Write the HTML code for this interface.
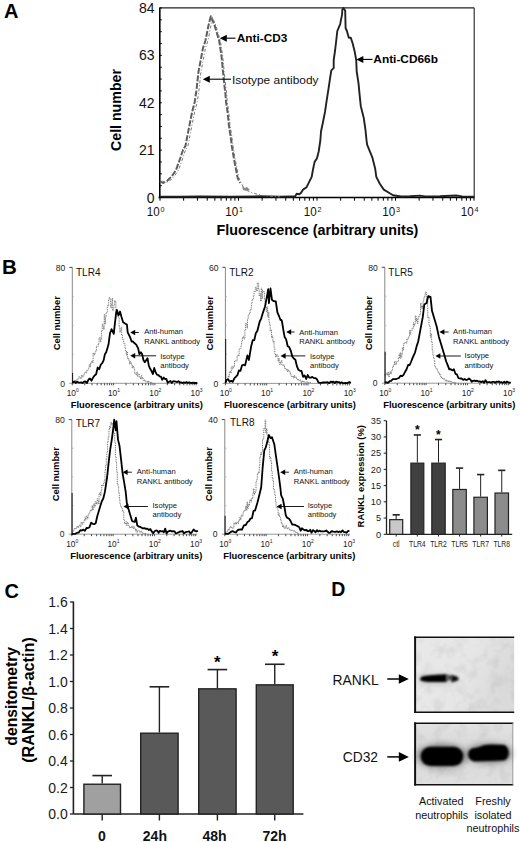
<!DOCTYPE html>
<html><head><meta charset="utf-8"><style>
html,body{margin:0;padding:0;background:#fff;}
body{width:520px;height:842px;overflow:hidden;}
svg{display:block;font-family:'Liberation Sans',sans-serif;}
text{font-family:'Liberation Sans',sans-serif;}
</style></head><body>
<svg width="520" height="842" viewBox="0 0 520 842">
<rect width="520" height="842" fill="#fff"/>
<text x="4.00" y="17.60" font-size="20" font-weight="bold" >A</text>
<line x1="159.80" y1="7.50" x2="159.80" y2="198.30" stroke="#000" stroke-width="1.6" />
<line x1="159.80" y1="7.80" x2="474.00" y2="7.80" stroke="#222" stroke-width="1.3" />
<line x1="474.20" y1="7.80" x2="474.20" y2="197.50" stroke="#222" stroke-width="1.1" />
<line x1="158.50" y1="197.50" x2="474.50" y2="197.50" stroke="#000" stroke-width="1.5" />
<line x1="159.80" y1="197.50" x2="161.80" y2="197.50" stroke="#000" stroke-width="1" />
<line x1="159.80" y1="185.66" x2="161.80" y2="185.66" stroke="#000" stroke-width="1" />
<line x1="159.80" y1="173.81" x2="161.80" y2="173.81" stroke="#000" stroke-width="1" />
<line x1="159.80" y1="161.97" x2="161.80" y2="161.97" stroke="#000" stroke-width="1" />
<line x1="159.80" y1="150.12" x2="161.80" y2="150.12" stroke="#000" stroke-width="1" />
<line x1="159.80" y1="138.28" x2="161.80" y2="138.28" stroke="#000" stroke-width="1" />
<line x1="159.80" y1="126.44" x2="161.80" y2="126.44" stroke="#000" stroke-width="1" />
<line x1="159.80" y1="114.59" x2="161.80" y2="114.59" stroke="#000" stroke-width="1" />
<line x1="159.80" y1="102.75" x2="161.80" y2="102.75" stroke="#000" stroke-width="1" />
<line x1="159.80" y1="90.91" x2="161.80" y2="90.91" stroke="#000" stroke-width="1" />
<line x1="159.80" y1="79.06" x2="161.80" y2="79.06" stroke="#000" stroke-width="1" />
<line x1="159.80" y1="67.22" x2="161.80" y2="67.22" stroke="#000" stroke-width="1" />
<line x1="159.80" y1="55.38" x2="161.80" y2="55.38" stroke="#000" stroke-width="1" />
<line x1="159.80" y1="43.53" x2="161.80" y2="43.53" stroke="#000" stroke-width="1" />
<line x1="159.80" y1="31.69" x2="161.80" y2="31.69" stroke="#000" stroke-width="1" />
<line x1="159.80" y1="19.84" x2="161.80" y2="19.84" stroke="#000" stroke-width="1" />
<line x1="159.80" y1="8.00" x2="161.80" y2="8.00" stroke="#000" stroke-width="1" />
<text x="154.60" y="202.50" font-size="14" text-anchor="end" fill="#111" >0</text>
<text x="154.60" y="155.12" font-size="14" text-anchor="end" fill="#111" >21</text>
<text x="154.60" y="107.75" font-size="14" text-anchor="end" fill="#111" >42</text>
<text x="154.60" y="60.38" font-size="14" text-anchor="end" fill="#111" >63</text>
<text x="154.60" y="13.00" font-size="14" text-anchor="end" fill="#111" >84</text>
<line x1="160.00" y1="197.50" x2="160.00" y2="200.70" stroke="#000" stroke-width="1" />
<line x1="183.63" y1="197.50" x2="183.63" y2="200.70" stroke="#000" stroke-width="1" />
<line x1="197.45" y1="197.50" x2="197.45" y2="200.70" stroke="#000" stroke-width="1" />
<line x1="207.26" y1="197.50" x2="207.26" y2="200.70" stroke="#000" stroke-width="1" />
<line x1="214.87" y1="197.50" x2="214.87" y2="200.70" stroke="#000" stroke-width="1" />
<line x1="221.08" y1="197.50" x2="221.08" y2="200.70" stroke="#000" stroke-width="1" />
<line x1="226.34" y1="197.50" x2="226.34" y2="200.70" stroke="#000" stroke-width="1" />
<line x1="230.89" y1="197.50" x2="230.89" y2="200.70" stroke="#000" stroke-width="1" />
<line x1="234.91" y1="197.50" x2="234.91" y2="200.70" stroke="#000" stroke-width="1" />
<line x1="238.50" y1="197.50" x2="238.50" y2="200.70" stroke="#000" stroke-width="1" />
<line x1="262.13" y1="197.50" x2="262.13" y2="200.70" stroke="#000" stroke-width="1" />
<line x1="275.95" y1="197.50" x2="275.95" y2="200.70" stroke="#000" stroke-width="1" />
<line x1="285.76" y1="197.50" x2="285.76" y2="200.70" stroke="#000" stroke-width="1" />
<line x1="293.37" y1="197.50" x2="293.37" y2="200.70" stroke="#000" stroke-width="1" />
<line x1="299.58" y1="197.50" x2="299.58" y2="200.70" stroke="#000" stroke-width="1" />
<line x1="304.84" y1="197.50" x2="304.84" y2="200.70" stroke="#000" stroke-width="1" />
<line x1="309.39" y1="197.50" x2="309.39" y2="200.70" stroke="#000" stroke-width="1" />
<line x1="313.41" y1="197.50" x2="313.41" y2="200.70" stroke="#000" stroke-width="1" />
<line x1="317.00" y1="197.50" x2="317.00" y2="200.70" stroke="#000" stroke-width="1" />
<line x1="340.63" y1="197.50" x2="340.63" y2="200.70" stroke="#000" stroke-width="1" />
<line x1="354.45" y1="197.50" x2="354.45" y2="200.70" stroke="#000" stroke-width="1" />
<line x1="364.26" y1="197.50" x2="364.26" y2="200.70" stroke="#000" stroke-width="1" />
<line x1="371.87" y1="197.50" x2="371.87" y2="200.70" stroke="#000" stroke-width="1" />
<line x1="378.08" y1="197.50" x2="378.08" y2="200.70" stroke="#000" stroke-width="1" />
<line x1="383.34" y1="197.50" x2="383.34" y2="200.70" stroke="#000" stroke-width="1" />
<line x1="387.89" y1="197.50" x2="387.89" y2="200.70" stroke="#000" stroke-width="1" />
<line x1="391.91" y1="197.50" x2="391.91" y2="200.70" stroke="#000" stroke-width="1" />
<line x1="395.50" y1="197.50" x2="395.50" y2="200.70" stroke="#000" stroke-width="1" />
<line x1="419.13" y1="197.50" x2="419.13" y2="200.70" stroke="#000" stroke-width="1" />
<line x1="432.95" y1="197.50" x2="432.95" y2="200.70" stroke="#000" stroke-width="1" />
<line x1="442.76" y1="197.50" x2="442.76" y2="200.70" stroke="#000" stroke-width="1" />
<line x1="450.37" y1="197.50" x2="450.37" y2="200.70" stroke="#000" stroke-width="1" />
<line x1="456.58" y1="197.50" x2="456.58" y2="200.70" stroke="#000" stroke-width="1" />
<line x1="461.84" y1="197.50" x2="461.84" y2="200.70" stroke="#000" stroke-width="1" />
<line x1="466.39" y1="197.50" x2="466.39" y2="200.70" stroke="#000" stroke-width="1" />
<line x1="470.41" y1="197.50" x2="470.41" y2="200.70" stroke="#000" stroke-width="1" />
<line x1="474.00" y1="197.50" x2="474.00" y2="200.70" stroke="#000" stroke-width="1" />
<text x="159.70" y="216.40" font-size="13.4" text-anchor="end" fill="#111" textLength="12.9" lengthAdjust="spacingAndGlyphs" >10</text>
<text x="160.60" y="211.60" font-size="7.2" fill="#111" >0</text>
<text x="238.20" y="216.40" font-size="13.4" text-anchor="end" fill="#111" textLength="12.9" lengthAdjust="spacingAndGlyphs" >10</text>
<text x="239.10" y="211.60" font-size="7.2" fill="#111" >1</text>
<text x="316.70" y="216.40" font-size="13.4" text-anchor="end" fill="#111" textLength="12.9" lengthAdjust="spacingAndGlyphs" >10</text>
<text x="317.60" y="211.60" font-size="7.2" fill="#111" >2</text>
<text x="395.20" y="216.40" font-size="13.4" text-anchor="end" fill="#111" textLength="12.9" lengthAdjust="spacingAndGlyphs" >10</text>
<text x="396.10" y="211.60" font-size="7.2" fill="#111" >3</text>
<text x="473.70" y="216.40" font-size="13.4" text-anchor="end" fill="#111" textLength="12.9" lengthAdjust="spacingAndGlyphs" >10</text>
<text x="474.60" y="211.60" font-size="7.2" fill="#111" >4</text>
<text x="216.60" y="235.20" font-size="14.3" font-weight="bold" textLength="201.8" lengthAdjust="spacingAndGlyphs" >Fluorescence (arbitrary units)</text>
<text x="120.80" y="151.00" font-size="14.2" font-weight="bold" textLength="82" lengthAdjust="spacingAndGlyphs" transform="rotate(-90 120.80 151.00)" >Cell number</text>
<polyline points="160.0,196.6 180.0,196.7 200.0,196.4 230.0,196.7 260.0,196.3 280.0,196.6 290.0,196.4 295.0,196.5 296.7,193.7 299.6,194.2 301.3,192.5 303.1,189.6 306.5,187.3 308.8,182.7 311.7,176.9 312.9,170.0 314.6,161.9 316.9,158.5 318.7,151.5 320.4,140.0 321.0,131.5 322.7,123.5 325.0,111.9 326.7,100.4 328.5,88.8 330.2,77.3 331.3,70.4 333.7,68.1 333.7,60.0 335.0,51.0 335.9,43.5 337.3,31.0 338.3,28.6 340.2,24.2 340.7,21.3 342.1,14.6 342.3,9.8 343.5,8.0 345.2,10.8 345.6,28.0 346.9,31.0 348.8,37.7 350.8,37.7 352.7,43.5 354.6,51.2 356.2,60.0 356.7,71.5 358.5,83.1 359.6,94.6 360.8,106.2 363.7,117.7 365.4,129.2 366.5,140.0 367.1,144.6 372.3,157.3 375.2,168.8 376.3,176.9 379.8,183.8 383.8,189.6 388.5,192.5 393.0,195.2 401.0,196.5 410.0,196.3 420.0,195.6 425.0,196.4 440.0,196.2 456.0,195.5 462.0,196.4 474.0,196.6" fill="none" stroke="#222" stroke-width="1.9" stroke-linejoin="round" />
<polyline points="160.0,181.0 163.0,183.0 167.0,181.0 172.0,176.0 176.0,170.0 180.0,159.0 183.0,150.0 185.6,145.4 187.3,136.2 189.6,124.6 191.9,113.0 194.8,101.5 196.5,90.0 198.5,71.5 201.5,56.0 203.0,48.0 205.4,40.8 208.5,25.4 210.8,16.2 214.6,25.4 219.2,40.8 221.5,56.0 223.0,71.5 224.6,87.0 225.4,93.5 226.0,101.5 227.7,113.0 228.8,124.6 230.6,136.2 231.7,145.4 234.0,159.0 237.6,177.7 240.0,183.0" fill="none" stroke="#5e5e5e" stroke-width="2.0" stroke-linejoin="round" stroke-dasharray="6 1.6"/>
<polyline points="162.5,181.0 165.5,183.0 169.5,181.0 174.5,176.0 178.5,170.0 182.5,159.0 185.5,150.0 188.1,145.4 189.8,136.2 192.1,124.6 194.4,113.0 197.3,101.5 199.0,90.0 201.0,71.5 204.0,56.0 205.5,48.0 207.9,40.8 211.0,25.4 212.0,16.2 215.8,25.4 220.4,40.8 222.7,56.0 224.2,71.5 225.8,87.0 226.6,93.5 227.2,101.5 228.9,113.0 230.0,124.6 231.8,136.2 232.9,145.4 235.2,159.0 238.8,177.7 241.2,183.0 244.5,189.0 250.0,192.0 258.0,194.5 266.0,196.0 280.0,196.8" fill="none" stroke="#777" stroke-width="1.0" stroke-linejoin="round" stroke-dasharray="3 2 1 2"/>
<path d="M242,186 l3,2 l2,-1 l3,3 l-3,1 l-4,-1 z" fill="#888"/>
<line x1="226.30" y1="38.20" x2="235.50" y2="38.20" stroke="#000" stroke-width="1.1" />
<polygon points="219.80,38.20 226.80,34.70 226.80,41.70" fill="#000"/>
<text x="236.80" y="42.30" font-size="11.2" font-weight="bold" textLength="50.5" lengthAdjust="spacingAndGlyphs" >Anti-CD3</text>
<line x1="209.30" y1="79.20" x2="231.00" y2="79.20" stroke="#000" stroke-width="1.1" />
<polygon points="202.80,79.20 209.80,75.70 209.80,82.70" fill="#000"/>
<text x="231.90" y="84.10" font-size="11.5" fill="#111" textLength="86.6" lengthAdjust="spacingAndGlyphs" >Isotype antibody</text>
<line x1="362.80" y1="59.40" x2="372.50" y2="59.40" stroke="#000" stroke-width="1.1" />
<polygon points="356.30,59.40 363.30,55.90 363.30,62.90" fill="#000"/>
<text x="373.30" y="62.90" font-size="11.2" font-weight="bold" textLength="64.7" lengthAdjust="spacingAndGlyphs" >Anti-CD66b</text>
<text x="2.10" y="273.80" font-size="20.5" font-weight="bold" >B</text>
<line x1="72.30" y1="267.40" x2="72.30" y2="383.30" stroke="#888" stroke-width="1" />
<line x1="69.30" y1="267.40" x2="72.30" y2="267.40" stroke="#444" stroke-width="1" />
<line x1="69.30" y1="383.30" x2="197.70" y2="383.30" stroke="#999" stroke-width="1" />
<line x1="72.30" y1="296.38" x2="73.80" y2="296.38" stroke="#aaa" stroke-width="0.8" />
<line x1="72.30" y1="325.35" x2="73.80" y2="325.35" stroke="#aaa" stroke-width="0.8" />
<line x1="72.30" y1="354.32" x2="73.80" y2="354.32" stroke="#aaa" stroke-width="0.8" />
<line x1="72.30" y1="383.30" x2="72.30" y2="385.30" stroke="#333" stroke-width="0.9" />
<line x1="84.73" y1="383.30" x2="84.73" y2="385.30" stroke="#333" stroke-width="0.9" />
<line x1="92.01" y1="383.30" x2="92.01" y2="385.30" stroke="#333" stroke-width="0.9" />
<line x1="97.17" y1="383.30" x2="97.17" y2="385.30" stroke="#333" stroke-width="0.9" />
<line x1="101.17" y1="383.30" x2="101.17" y2="385.30" stroke="#333" stroke-width="0.9" />
<line x1="104.44" y1="383.30" x2="104.44" y2="385.30" stroke="#333" stroke-width="0.9" />
<line x1="107.20" y1="383.30" x2="107.20" y2="385.30" stroke="#333" stroke-width="0.9" />
<line x1="109.60" y1="383.30" x2="109.60" y2="385.30" stroke="#333" stroke-width="0.9" />
<line x1="111.71" y1="383.30" x2="111.71" y2="385.30" stroke="#333" stroke-width="0.9" />
<line x1="113.60" y1="383.30" x2="113.60" y2="385.30" stroke="#333" stroke-width="0.9" />
<line x1="126.03" y1="383.30" x2="126.03" y2="385.30" stroke="#333" stroke-width="0.9" />
<line x1="133.31" y1="383.30" x2="133.31" y2="385.30" stroke="#333" stroke-width="0.9" />
<line x1="138.47" y1="383.30" x2="138.47" y2="385.30" stroke="#333" stroke-width="0.9" />
<line x1="142.47" y1="383.30" x2="142.47" y2="385.30" stroke="#333" stroke-width="0.9" />
<line x1="145.74" y1="383.30" x2="145.74" y2="385.30" stroke="#333" stroke-width="0.9" />
<line x1="148.50" y1="383.30" x2="148.50" y2="385.30" stroke="#333" stroke-width="0.9" />
<line x1="150.90" y1="383.30" x2="150.90" y2="385.30" stroke="#333" stroke-width="0.9" />
<line x1="153.01" y1="383.30" x2="153.01" y2="385.30" stroke="#333" stroke-width="0.9" />
<line x1="154.90" y1="383.30" x2="154.90" y2="385.30" stroke="#333" stroke-width="0.9" />
<line x1="167.33" y1="383.30" x2="167.33" y2="385.30" stroke="#333" stroke-width="0.9" />
<line x1="174.61" y1="383.30" x2="174.61" y2="385.30" stroke="#333" stroke-width="0.9" />
<line x1="179.77" y1="383.30" x2="179.77" y2="385.30" stroke="#333" stroke-width="0.9" />
<line x1="183.77" y1="383.30" x2="183.77" y2="385.30" stroke="#333" stroke-width="0.9" />
<line x1="187.04" y1="383.30" x2="187.04" y2="385.30" stroke="#333" stroke-width="0.9" />
<line x1="189.80" y1="383.30" x2="189.80" y2="385.30" stroke="#333" stroke-width="0.9" />
<line x1="192.20" y1="383.30" x2="192.20" y2="385.30" stroke="#333" stroke-width="0.9" />
<line x1="194.31" y1="383.30" x2="194.31" y2="385.30" stroke="#333" stroke-width="0.9" />
<line x1="196.20" y1="383.30" x2="196.20" y2="385.30" stroke="#333" stroke-width="0.9" />
<text x="65.40" y="271.30" font-size="8.6" text-anchor="end" fill="#222" >80</text>
<text x="65.10" y="386.50" font-size="8.6" text-anchor="end" fill="#222" >0</text>
<text x="76.00" y="275.90" font-size="10.0" fill="#111" >TLR4</text>
<text x="71.30" y="395.60" font-size="8.3" text-anchor="middle" fill="#222" >10</text>
<text x="75.90" y="391.90" font-size="5" fill="#222" >0</text>
<text x="112.60" y="395.60" font-size="8.3" text-anchor="middle" fill="#222" >10</text>
<text x="117.20" y="391.90" font-size="5" fill="#222" >1</text>
<text x="153.90" y="395.60" font-size="8.3" text-anchor="middle" fill="#222" >10</text>
<text x="158.50" y="391.90" font-size="5" fill="#222" >2</text>
<text x="195.20" y="395.60" font-size="8.3" text-anchor="middle" fill="#222" >10</text>
<text x="199.80" y="391.90" font-size="5" fill="#222" >3</text>
<text x="70.80" y="407.90" font-size="9.3" font-weight="bold" textLength="132" lengthAdjust="spacingAndGlyphs" >Fluorescence (arbitrary units)</text>
<text x="60.00" y="350.30" font-size="9.9" font-weight="bold" textLength="54.2" lengthAdjust="spacingAndGlyphs" transform="rotate(-90 60.00 350.30)" >Cell number</text>
<polyline points="72.3,383.0 72.3,382.9 73.0,382.9 73.0,382.8 73.6,382.8 73.6,382.2 74.3,382.2 74.3,382.4 74.9,382.4 74.9,380.4 75.6,380.4 75.6,381.1 76.2,381.1 76.2,380.8 76.9,380.8 76.9,379.4 77.5,379.4 77.5,379.2 78.2,379.2 78.2,378.6 78.8,378.6 78.8,376.8 79.5,376.8 79.5,377.0 80.1,377.0 80.1,377.8 80.8,377.8 80.8,378.6 81.4,378.6 81.4,375.3 82.1,375.3 82.1,376.7 82.7,376.7 82.7,375.7 83.4,375.7 83.4,376.1 84.0,376.1 84.0,373.2 84.7,373.2 84.7,373.2 85.3,373.2 85.3,372.3 86.0,372.3 86.0,372.9 86.6,372.9 86.6,370.4 87.3,370.4 87.3,370.4 87.9,370.4 87.9,369.1 88.6,369.1 88.6,368.1 89.2,368.1 89.2,364.6 89.9,364.6 89.9,366.8 90.5,366.8 90.5,362.9 91.2,362.9 91.2,363.1 91.8,363.1 91.8,361.0 92.5,361.0 92.5,362.7 93.1,362.7 93.1,353.1 93.8,353.1 93.8,354.9 94.4,354.9 94.4,353.6 95.1,353.6 95.1,351.8 95.7,351.8 95.7,351.0 96.4,351.0 96.4,346.2 97.0,346.2 97.0,346.3 97.7,346.3 97.7,346.4 98.3,346.4 98.3,343.4 99.0,343.4 99.0,338.1 99.6,338.1 99.6,337.4 100.3,337.4 100.3,341.9 100.9,341.9 100.9,339.6 101.6,339.6 101.6,331.0 102.2,331.0 102.2,324.0 102.9,324.0 102.9,326.2 103.5,326.2 103.5,329.4 104.2,329.4 104.2,314.6 104.8,314.6 104.8,324.0 105.5,324.0 105.5,317.0 106.1,317.0 106.1,313.3 106.8,313.3 106.8,312.3 107.4,312.3 107.4,305.4 108.1,305.4 108.1,305.7 108.7,305.7 108.7,299.1 109.4,299.1 109.4,297.5 110.0,297.5 110.0,299.7 110.7,299.7 110.7,307.9 111.3,307.9 111.3,304.6 112.0,304.6 112.0,298.4 112.6,298.4 112.6,310.6 113.3,310.6 113.3,309.0 113.9,309.0 113.9,305.2 114.6,305.2 114.6,300.6 115.2,300.6 115.2,301.5 115.9,301.5 115.9,311.0 116.5,311.0 116.5,309.8 117.2,309.8 117.2,312.9 117.8,312.9 117.8,316.7 118.5,316.7 118.5,317.3 119.1,317.3 119.1,326.9 119.8,326.9 119.8,332.2 120.4,332.2 120.4,330.1 121.1,330.1 121.1,327.2 121.7,327.2 121.7,335.2 122.4,335.2 122.4,339.3 123.0,339.3 123.0,339.4 123.7,339.4 123.7,343.3 124.3,343.3 124.3,343.5 125.0,343.5 125.0,348.5 125.6,348.5 125.6,351.0 126.3,351.0 126.3,355.2 126.9,355.2 126.9,351.9 127.6,351.9 127.6,359.0 128.2,359.0 128.2,358.4 128.9,358.4 128.9,360.9 129.5,360.9 129.5,364.2 130.2,364.2 130.2,361.7 130.8,361.7 130.8,362.9 131.5,362.9 131.5,364.4 132.1,364.4 132.1,368.0 132.8,368.0 132.8,365.8 133.4,365.8 133.4,367.2 134.1,367.2 134.1,369.1 134.7,369.1 134.7,373.4 135.4,373.4 135.4,374.2 136.0,374.2 136.0,374.5 136.7,374.5 136.7,371.9 137.3,371.9 137.3,376.5 138.0,376.5 138.0,374.2 138.6,374.2 138.6,374.3 139.3,374.3 139.3,376.8 139.9,376.8 139.9,377.5 140.6,377.5 140.6,379.2 141.2,379.2 141.2,375.6 141.9,375.6 141.9,378.2 142.5,378.2 142.5,377.7 143.2,377.7 143.2,380.5 143.8,380.5 143.8,380.5 144.5,380.5 144.5,379.8 145.1,379.8 145.1,381.3 145.8,381.3 145.8,381.8 146.4,381.8 146.4,381.7 147.1,381.7 147.1,381.4 147.7,381.4 147.7,382.6 148.4,382.6 148.4,381.1 149.0,381.1 149.0,382.3 149.7,382.3 149.7,382.3 150.3,382.3 150.3,382.4 151.0,382.4 151.0,382.2 151.6,382.2 151.6,382.7 152.3,382.7 152.3,382.6 152.9,382.6" fill="none" stroke="#686868" stroke-width="0.95" stroke-linejoin="round" stroke-dasharray="1 0.8"/>
<line x1="72.60" y1="373.00" x2="72.60" y2="383.30" stroke="#111" stroke-width="1.0" />
<polyline points="72.3,382.8 72.8,382.5 74.2,381.4 75.7,383.0 77.1,381.7 78.6,382.6 80.0,382.6 81.3,382.4 82.7,383.0 84.1,381.7 85.4,381.5 86.9,383.0 88.5,379.6 90.0,378.5 91.5,380.7 93.1,377.6 94.6,375.4 96.1,374.3 97.7,367.5 99.2,369.2 100.8,364.6 102.3,363.0 103.6,360.4 104.9,354.3 106.2,352.3 108.5,344.6 110.0,333.2 111.5,329.2 113.8,333.8 114.6,326.2 116.2,312.3 116.9,310.0 118.5,315.4 120.0,311.5 121.5,317.0 123.1,322.3 125.4,323.8 126.9,324.6 127.7,332.3 130.0,337.0 131.6,341.5 133.1,341.5 134.0,342.7 136.2,344.6 138.1,348.1 139.4,354.2 140.8,352.3 142.1,354.1 143.5,360.2 144.8,362.3 146.2,360.2 147.5,358.2 148.8,365.6 150.2,368.8 151.5,371.0 152.9,374.0 154.2,368.0 155.6,372.3 156.9,374.6 158.3,375.0 159.6,376.3 160.9,376.7 162.3,379.8 163.7,377.5 165.0,379.0 166.3,378.9 167.7,382.7 169.1,381.8 170.4,381.0 171.8,383.0 173.1,381.2 174.5,381.4 175.8,381.7 177.1,382.1 178.5,381.2 179.8,382.5 181.1,382.4 182.5,383.0 183.8,382.4 185.2,382.9 186.5,382.1 187.9,383.0 189.2,382.3 190.6,382.8 191.9,383.0 193.2,382.7 194.6,383.0 196.0,383.0 197.3,382.8" fill="none" stroke="#000" stroke-width="1.8" stroke-linejoin="round" />
<line x1="134.70" y1="332.50" x2="138.80" y2="332.50" stroke="#000" stroke-width="0.9" />
<polygon points="130.20,332.50 135.20,329.70 135.20,335.30" fill="#000"/>
<line x1="134.70" y1="355.80" x2="156.20" y2="355.80" stroke="#000" stroke-width="0.9" />
<polygon points="130.20,355.80 135.20,353.00 135.20,358.60" fill="#000"/>
<text x="144.20" y="334.30" font-size="7.6" fill="#111" >Anti-human</text>
<text x="144.20" y="343.60" font-size="7.6" fill="#111" >RANKL antibody</text>
<text x="160.20" y="359.00" font-size="7.6" fill="#111" >Isotype</text>
<text x="160.20" y="368.10" font-size="7.6" fill="#111" >antibody</text>
<line x1="225.40" y1="267.30" x2="225.40" y2="383.40" stroke="#888" stroke-width="1" />
<line x1="222.40" y1="267.30" x2="225.40" y2="267.30" stroke="#444" stroke-width="1" />
<line x1="222.40" y1="383.40" x2="350.80" y2="383.40" stroke="#999" stroke-width="1" />
<line x1="225.40" y1="296.32" x2="226.90" y2="296.32" stroke="#aaa" stroke-width="0.8" />
<line x1="225.40" y1="325.35" x2="226.90" y2="325.35" stroke="#aaa" stroke-width="0.8" />
<line x1="225.40" y1="354.38" x2="226.90" y2="354.38" stroke="#aaa" stroke-width="0.8" />
<line x1="225.40" y1="383.40" x2="225.40" y2="385.40" stroke="#333" stroke-width="0.9" />
<line x1="237.83" y1="383.40" x2="237.83" y2="385.40" stroke="#333" stroke-width="0.9" />
<line x1="245.11" y1="383.40" x2="245.11" y2="385.40" stroke="#333" stroke-width="0.9" />
<line x1="250.27" y1="383.40" x2="250.27" y2="385.40" stroke="#333" stroke-width="0.9" />
<line x1="254.27" y1="383.40" x2="254.27" y2="385.40" stroke="#333" stroke-width="0.9" />
<line x1="257.54" y1="383.40" x2="257.54" y2="385.40" stroke="#333" stroke-width="0.9" />
<line x1="260.30" y1="383.40" x2="260.30" y2="385.40" stroke="#333" stroke-width="0.9" />
<line x1="262.70" y1="383.40" x2="262.70" y2="385.40" stroke="#333" stroke-width="0.9" />
<line x1="264.81" y1="383.40" x2="264.81" y2="385.40" stroke="#333" stroke-width="0.9" />
<line x1="266.70" y1="383.40" x2="266.70" y2="385.40" stroke="#333" stroke-width="0.9" />
<line x1="279.13" y1="383.40" x2="279.13" y2="385.40" stroke="#333" stroke-width="0.9" />
<line x1="286.41" y1="383.40" x2="286.41" y2="385.40" stroke="#333" stroke-width="0.9" />
<line x1="291.57" y1="383.40" x2="291.57" y2="385.40" stroke="#333" stroke-width="0.9" />
<line x1="295.57" y1="383.40" x2="295.57" y2="385.40" stroke="#333" stroke-width="0.9" />
<line x1="298.84" y1="383.40" x2="298.84" y2="385.40" stroke="#333" stroke-width="0.9" />
<line x1="301.60" y1="383.40" x2="301.60" y2="385.40" stroke="#333" stroke-width="0.9" />
<line x1="304.00" y1="383.40" x2="304.00" y2="385.40" stroke="#333" stroke-width="0.9" />
<line x1="306.11" y1="383.40" x2="306.11" y2="385.40" stroke="#333" stroke-width="0.9" />
<line x1="308.00" y1="383.40" x2="308.00" y2="385.40" stroke="#333" stroke-width="0.9" />
<line x1="320.43" y1="383.40" x2="320.43" y2="385.40" stroke="#333" stroke-width="0.9" />
<line x1="327.71" y1="383.40" x2="327.71" y2="385.40" stroke="#333" stroke-width="0.9" />
<line x1="332.87" y1="383.40" x2="332.87" y2="385.40" stroke="#333" stroke-width="0.9" />
<line x1="336.87" y1="383.40" x2="336.87" y2="385.40" stroke="#333" stroke-width="0.9" />
<line x1="340.14" y1="383.40" x2="340.14" y2="385.40" stroke="#333" stroke-width="0.9" />
<line x1="342.90" y1="383.40" x2="342.90" y2="385.40" stroke="#333" stroke-width="0.9" />
<line x1="345.30" y1="383.40" x2="345.30" y2="385.40" stroke="#333" stroke-width="0.9" />
<line x1="347.41" y1="383.40" x2="347.41" y2="385.40" stroke="#333" stroke-width="0.9" />
<line x1="349.30" y1="383.40" x2="349.30" y2="385.40" stroke="#333" stroke-width="0.9" />
<text x="218.50" y="271.20" font-size="8.6" text-anchor="end" fill="#222" >60</text>
<text x="218.20" y="386.60" font-size="8.6" text-anchor="end" fill="#222" >0</text>
<text x="229.20" y="276.40" font-size="10.0" fill="#111" >TLR2</text>
<text x="224.40" y="395.70" font-size="8.3" text-anchor="middle" fill="#222" >10</text>
<text x="229.00" y="392.00" font-size="5" fill="#222" >0</text>
<text x="265.70" y="395.70" font-size="8.3" text-anchor="middle" fill="#222" >10</text>
<text x="270.30" y="392.00" font-size="5" fill="#222" >1</text>
<text x="307.00" y="395.70" font-size="8.3" text-anchor="middle" fill="#222" >10</text>
<text x="311.60" y="392.00" font-size="5" fill="#222" >2</text>
<text x="348.30" y="395.70" font-size="8.3" text-anchor="middle" fill="#222" >10</text>
<text x="352.90" y="392.00" font-size="5" fill="#222" >3</text>
<text x="223.90" y="408.00" font-size="9.3" font-weight="bold" textLength="132" lengthAdjust="spacingAndGlyphs" >Fluorescence (arbitrary units)</text>
<text x="213.10" y="350.40" font-size="9.9" font-weight="bold" textLength="54.2" lengthAdjust="spacingAndGlyphs" transform="rotate(-90 213.10 350.40)" >Cell number</text>
<polyline points="225.4,383.0 225.4,382.2 226.1,382.2 226.1,379.1 226.7,379.1 226.7,379.6 227.4,379.6 227.4,378.5 228.0,378.5 228.0,376.1 228.7,376.1 228.7,376.8 229.3,376.8 229.3,372.0 230.0,372.0 230.0,371.3 230.6,371.3 230.6,372.9 231.3,372.9 231.3,366.9 231.9,366.9 231.9,366.7 232.6,366.7 232.6,368.7 233.2,368.7 233.2,367.6 233.9,367.6 233.9,366.1 234.5,366.1 234.5,360.9 235.2,360.9 235.2,360.9 235.8,360.9 235.8,361.0 236.5,361.0 236.5,361.1 237.1,361.1 237.1,355.9 237.8,355.9 237.8,355.1 238.4,355.1 238.4,355.8 239.1,355.8 239.1,349.3 239.7,349.3 239.7,348.7 240.4,348.7 240.4,348.7 241.0,348.7 241.0,345.0 241.7,345.0 241.7,341.1 242.3,341.1 242.3,337.7 243.0,337.7 243.0,336.3 243.6,336.3 243.6,338.9 244.3,338.9 244.3,338.9 244.9,338.9 244.9,330.2 245.6,330.2 245.6,323.3 246.2,323.3 246.2,324.3 246.9,324.3 246.9,328.0 247.5,328.0 247.5,319.2 248.2,319.2 248.2,315.1 248.8,315.1 248.8,313.9 249.5,313.9 249.5,313.1 250.1,313.1 250.1,309.7 250.8,309.7 250.8,309.9 251.4,309.9 251.4,303.6 252.1,303.6 252.1,300.2 252.7,300.2 252.7,299.1 253.4,299.1 253.4,296.3 254.0,296.3 254.0,291.5 254.7,291.5 254.7,291.7 255.3,291.7 255.3,287.3 256.0,287.3 256.0,288.9 256.6,288.9 256.6,291.1 257.3,291.1 257.3,283.0 257.9,283.0 257.9,283.1 258.6,283.1 258.6,289.6 259.2,289.6 259.2,295.9 259.9,295.9 259.9,293.8 260.5,293.8 260.5,301.1 261.2,301.1 261.2,288.1 261.8,288.1 261.8,298.7 262.5,298.7 262.5,290.5 263.1,290.5 263.1,292.1 263.8,292.1 263.8,291.8 264.4,291.8 264.4,299.1 265.0,299.1 265.0,303.3 265.7,303.3 265.7,307.3 266.3,307.3 266.3,312.0 267.0,312.0 267.0,306.9 267.6,306.9 267.6,316.9 268.3,316.9 268.3,312.1 268.9,312.1 268.9,321.3 269.6,321.3 269.6,324.7 270.2,324.7 270.2,331.0 270.9,331.0 270.9,329.9 271.5,329.9 271.5,337.5 272.2,337.5 272.2,336.0 272.8,336.0 272.8,342.1 273.5,342.1 273.5,341.2 274.1,341.2 274.1,347.8 274.8,347.8 274.8,353.6 275.4,353.6 275.4,357.1 276.1,357.1 276.1,354.7 276.7,354.7 276.7,355.6 277.4,355.6 277.4,355.0 278.0,355.0 278.0,361.2 278.7,361.2 278.7,358.5 279.3,358.5 279.3,364.5 280.0,364.5 280.0,364.2 280.6,364.2 280.6,362.0 281.3,362.0 281.3,360.4 281.9,360.4 281.9,364.8 282.6,364.8 282.6,365.1 283.2,365.1 283.2,364.7 283.9,364.7 283.9,365.7 284.5,365.7 284.5,368.2 285.2,368.2 285.2,368.1 285.8,368.1 285.8,369.8 286.5,369.8 286.5,369.4 287.1,369.4 287.1,371.3 287.8,371.3 287.8,369.6 288.4,369.6 288.4,371.3 289.1,371.3 289.1,371.1 289.7,371.1 289.7,372.1 290.4,372.1 290.4,374.2 291.0,374.2 291.0,376.3 291.7,376.3 291.7,376.0 292.3,376.0 292.3,376.8 293.0,376.8 293.0,376.4 293.6,376.4 293.6,378.2 294.3,378.2 294.3,375.7 294.9,375.7 294.9,377.1 295.6,377.1 295.6,376.9 296.2,376.9 296.2,378.7 296.9,378.7 296.9,379.6 297.5,379.6 297.5,379.9 298.2,379.9 298.2,379.4 298.8,379.4 298.8,380.6 299.5,380.6 299.5,380.2 300.1,380.2 300.1,379.9 300.8,379.9 300.8,382.4 301.4,382.4 301.4,381.5 302.1,381.5 302.1,382.1 302.7,382.1 302.7,381.0 303.4,381.0 303.4,382.1 304.0,382.1 304.0,381.9 304.7,381.9 304.7,381.9 305.3,381.9 305.3,382.4 306.0,382.4 306.0,382.3 306.6,382.3 306.6,381.8 307.3,381.8 307.3,382.2 307.9,382.2 307.9,382.9 308.6,382.9 308.6,382.4 309.2,382.4 309.2,382.7 309.9,382.7 309.9,382.6 310.5,382.6 310.5,382.7 311.2,382.7" fill="none" stroke="#686868" stroke-width="0.95" stroke-linejoin="round" stroke-dasharray="1 0.8"/>
<line x1="225.70" y1="339.00" x2="225.70" y2="383.40" stroke="#111" stroke-width="1.0" />
<polyline points="225.4,382.9 226.6,380.0 228.1,379.2 229.7,381.8 231.2,380.8 232.7,381.9 234.3,378.4 235.8,376.9 237.4,375.2 238.9,370.5 240.5,370.8 242.0,365.4 243.6,364.7 245.1,365.4 247.4,355.4 248.9,360.0 251.2,346.2 252.8,340.1 254.3,340.0 255.8,333.2 257.4,330.8 259.7,321.5 261.2,318.6 262.8,313.1 265.1,306.2 267.4,293.8 268.2,289.2 268.9,303.1 270.5,288.5 272.0,300.0 273.9,301.2 275.8,301.5 277.4,312.3 278.9,315.8 280.5,320.0 281.5,320.0 282.0,321.5 283.5,330.8 284.6,336.9 286.1,339.2 287.7,346.2 289.2,347.1 290.8,350.8 292.3,356.6 293.8,358.5 295.4,359.8 296.9,366.2 298.4,369.8 300.0,370.8 301.5,370.9 303.1,376.8 304.6,375.4 306.2,379.0 307.7,375.0 309.2,377.6 310.8,377.7 312.3,376.9 313.9,378.1 315.4,378.1 316.9,379.2 318.4,382.3 320.0,382.8 321.6,382.9 323.1,382.3 324.6,382.5 326.2,382.4 327.7,382.2 329.3,383.1 330.8,381.5 332.1,382.2 333.5,381.6 334.8,383.1 336.1,381.7 337.5,382.2 338.8,382.1 340.2,383.1 341.5,382.3 342.8,383.1 344.2,383.1 345.5,382.9 346.8,383.1 348.1,382.6 349.5,382.1 350.8,383.0" fill="none" stroke="#000" stroke-width="1.8" stroke-linejoin="round" />
<line x1="290.70" y1="332.00" x2="294.60" y2="332.00" stroke="#000" stroke-width="0.9" />
<polygon points="286.20,332.00 291.20,329.20 291.20,334.80" fill="#000"/>
<line x1="285.10" y1="355.90" x2="305.40" y2="355.90" stroke="#000" stroke-width="0.9" />
<polygon points="280.60,355.90 285.60,353.10 285.60,358.70" fill="#000"/>
<text x="299.20" y="334.60" font-size="7.6" fill="#111" >Anti-human</text>
<text x="299.20" y="343.90" font-size="7.6" fill="#111" >RANKL antibody</text>
<text x="310.00" y="358.80" font-size="7.6" fill="#111" >Isotype</text>
<text x="310.00" y="367.90" font-size="7.6" fill="#111" >antibody</text>
<line x1="384.80" y1="267.30" x2="384.80" y2="383.20" stroke="#888" stroke-width="1" />
<line x1="381.80" y1="267.30" x2="384.80" y2="267.30" stroke="#444" stroke-width="1" />
<line x1="381.80" y1="383.20" x2="510.20" y2="383.20" stroke="#999" stroke-width="1" />
<line x1="384.80" y1="296.27" x2="386.30" y2="296.27" stroke="#aaa" stroke-width="0.8" />
<line x1="384.80" y1="325.25" x2="386.30" y2="325.25" stroke="#aaa" stroke-width="0.8" />
<line x1="384.80" y1="354.23" x2="386.30" y2="354.23" stroke="#aaa" stroke-width="0.8" />
<line x1="384.80" y1="383.20" x2="384.80" y2="385.20" stroke="#333" stroke-width="0.9" />
<line x1="397.23" y1="383.20" x2="397.23" y2="385.20" stroke="#333" stroke-width="0.9" />
<line x1="404.51" y1="383.20" x2="404.51" y2="385.20" stroke="#333" stroke-width="0.9" />
<line x1="409.67" y1="383.20" x2="409.67" y2="385.20" stroke="#333" stroke-width="0.9" />
<line x1="413.67" y1="383.20" x2="413.67" y2="385.20" stroke="#333" stroke-width="0.9" />
<line x1="416.94" y1="383.20" x2="416.94" y2="385.20" stroke="#333" stroke-width="0.9" />
<line x1="419.70" y1="383.20" x2="419.70" y2="385.20" stroke="#333" stroke-width="0.9" />
<line x1="422.10" y1="383.20" x2="422.10" y2="385.20" stroke="#333" stroke-width="0.9" />
<line x1="424.21" y1="383.20" x2="424.21" y2="385.20" stroke="#333" stroke-width="0.9" />
<line x1="426.10" y1="383.20" x2="426.10" y2="385.20" stroke="#333" stroke-width="0.9" />
<line x1="438.53" y1="383.20" x2="438.53" y2="385.20" stroke="#333" stroke-width="0.9" />
<line x1="445.81" y1="383.20" x2="445.81" y2="385.20" stroke="#333" stroke-width="0.9" />
<line x1="450.97" y1="383.20" x2="450.97" y2="385.20" stroke="#333" stroke-width="0.9" />
<line x1="454.97" y1="383.20" x2="454.97" y2="385.20" stroke="#333" stroke-width="0.9" />
<line x1="458.24" y1="383.20" x2="458.24" y2="385.20" stroke="#333" stroke-width="0.9" />
<line x1="461.00" y1="383.20" x2="461.00" y2="385.20" stroke="#333" stroke-width="0.9" />
<line x1="463.40" y1="383.20" x2="463.40" y2="385.20" stroke="#333" stroke-width="0.9" />
<line x1="465.51" y1="383.20" x2="465.51" y2="385.20" stroke="#333" stroke-width="0.9" />
<line x1="467.40" y1="383.20" x2="467.40" y2="385.20" stroke="#333" stroke-width="0.9" />
<line x1="479.83" y1="383.20" x2="479.83" y2="385.20" stroke="#333" stroke-width="0.9" />
<line x1="487.11" y1="383.20" x2="487.11" y2="385.20" stroke="#333" stroke-width="0.9" />
<line x1="492.27" y1="383.20" x2="492.27" y2="385.20" stroke="#333" stroke-width="0.9" />
<line x1="496.27" y1="383.20" x2="496.27" y2="385.20" stroke="#333" stroke-width="0.9" />
<line x1="499.54" y1="383.20" x2="499.54" y2="385.20" stroke="#333" stroke-width="0.9" />
<line x1="502.30" y1="383.20" x2="502.30" y2="385.20" stroke="#333" stroke-width="0.9" />
<line x1="504.70" y1="383.20" x2="504.70" y2="385.20" stroke="#333" stroke-width="0.9" />
<line x1="506.81" y1="383.20" x2="506.81" y2="385.20" stroke="#333" stroke-width="0.9" />
<line x1="508.70" y1="383.20" x2="508.70" y2="385.20" stroke="#333" stroke-width="0.9" />
<text x="377.90" y="271.20" font-size="8.6" text-anchor="end" fill="#222" >80</text>
<text x="377.60" y="386.40" font-size="8.6" text-anchor="end" fill="#222" >0</text>
<text x="388.30" y="276.40" font-size="10.0" fill="#111" >TLR5</text>
<text x="383.80" y="395.50" font-size="8.3" text-anchor="middle" fill="#222" >10</text>
<text x="388.40" y="391.80" font-size="5" fill="#222" >0</text>
<text x="425.10" y="395.50" font-size="8.3" text-anchor="middle" fill="#222" >10</text>
<text x="429.70" y="391.80" font-size="5" fill="#222" >1</text>
<text x="466.40" y="395.50" font-size="8.3" text-anchor="middle" fill="#222" >10</text>
<text x="471.00" y="391.80" font-size="5" fill="#222" >2</text>
<text x="507.70" y="395.50" font-size="8.3" text-anchor="middle" fill="#222" >10</text>
<text x="512.30" y="391.80" font-size="5" fill="#222" >3</text>
<text x="383.30" y="407.80" font-size="9.3" font-weight="bold" textLength="132" lengthAdjust="spacingAndGlyphs" >Fluorescence (arbitrary units)</text>
<text x="372.50" y="350.20" font-size="9.9" font-weight="bold" textLength="54.2" lengthAdjust="spacingAndGlyphs" transform="rotate(-90 372.50 350.20)" >Cell number</text>
<polyline points="384.8,375.4 384.8,375.8 385.4,375.8 385.4,374.0 386.1,374.0 386.1,374.1 386.7,374.1 386.7,372.9 387.4,372.9 387.4,375.3 388.0,375.3 388.0,372.2 388.7,372.2 388.7,376.8 389.3,376.8 389.3,374.5 390.0,374.5 390.0,371.6 390.6,371.6 390.6,373.7 391.3,373.7 391.3,372.0 391.9,372.0 391.9,369.4 392.6,369.4 392.6,367.4 393.2,367.4 393.2,365.1 393.9,365.1 393.9,364.9 394.5,364.9 394.5,361.3 395.2,361.3 395.2,363.9 395.8,363.9 395.8,364.6 396.5,364.6 396.5,361.8 397.1,361.8 397.1,361.6 397.8,361.6 397.8,361.5 398.4,361.5 398.4,358.2 399.1,358.2 399.1,354.0 399.7,354.0 399.7,358.4 400.4,358.4 400.4,352.6 401.0,352.6 401.0,357.4 401.7,357.4 401.7,354.6 402.3,354.6 402.3,347.7 403.0,347.7 403.0,350.2 403.6,350.2 403.6,343.2 404.3,343.2 404.3,343.0 404.9,343.0 404.9,343.1 405.6,343.1 405.6,342.6 406.2,342.6 406.2,343.2 406.9,343.2 406.9,339.0 407.5,339.0 407.5,339.4 408.2,339.4 408.2,337.9 408.8,337.9 408.8,336.0 409.5,336.0 409.5,330.5 410.1,330.5 410.1,334.4 410.8,334.4 410.8,330.5 411.4,330.5 411.4,330.5 412.1,330.5 412.1,328.0 412.7,328.0 412.7,328.2 413.4,328.2 413.4,322.8 414.0,322.8 414.0,325.7 414.7,325.7 414.7,323.3 415.3,323.3 415.3,315.7 416.0,315.7 416.0,320.9 416.6,320.9 416.6,318.6 417.3,318.6 417.3,323.8 417.9,323.8 417.9,318.1 418.6,318.1 418.6,316.2 419.2,316.2 419.2,316.2 419.9,316.2 419.9,313.3 420.5,313.3 420.5,303.2 421.2,303.2 421.2,308.2 421.8,308.2 421.8,306.0 422.5,306.0 422.5,308.5 423.1,308.5 423.1,301.0 423.8,301.0 423.8,297.6 424.4,297.6 424.4,296.4 425.1,296.4 425.1,293.4 425.7,293.4 425.7,291.8 426.4,291.8 426.4,302.6 427.0,302.6 427.0,300.4 427.7,300.4 427.7,317.5 428.3,317.5 428.3,317.0 429.0,317.0 429.0,325.8 429.6,325.8 429.6,326.7 430.3,326.7 430.3,337.2 430.9,337.2 430.9,333.6 431.6,333.6 431.6,341.6 432.2,341.6 432.2,349.9 432.9,349.9 432.9,355.7 433.5,355.7 433.5,357.5 434.2,357.5 434.2,360.7 434.8,360.7 434.8,366.6 435.5,366.6 435.5,368.0 436.1,368.0 436.1,368.0 436.8,368.0 436.8,369.4 437.4,369.4 437.4,370.9 438.1,370.9 438.1,372.6 438.7,372.6 438.7,372.8 439.4,372.8 439.4,374.7 440.0,374.7 440.0,374.3 440.7,374.3 440.7,376.5 441.3,376.5 441.3,377.5 442.0,377.5 442.0,378.3 442.6,378.3 442.6,379.1 443.3,379.1 443.3,378.9 443.9,378.9 443.9,378.6 444.6,378.6 444.6,380.0 445.2,380.0 445.2,380.3 445.9,380.3 445.9,381.2 446.5,381.2 446.5,380.0 447.2,380.0 447.2,381.1 447.8,381.1 447.8,381.5 448.5,381.5 448.5,380.6 449.1,380.6 449.1,381.2 449.8,381.2 449.8,381.8 450.4,381.8 450.4,381.3 451.1,381.3 451.1,382.2 451.7,382.2 451.7,382.1 452.4,382.1 452.4,382.5 453.0,382.5 453.0,382.5 453.7,382.5 453.7,382.7 454.3,382.7 454.3,382.9 455.0,382.9 455.0,382.6 455.6,382.6 455.6,382.9 456.3,382.9" fill="none" stroke="#686868" stroke-width="0.95" stroke-linejoin="round" stroke-dasharray="1 0.8"/>
<line x1="385.10" y1="351.70" x2="385.10" y2="383.20" stroke="#111" stroke-width="1.0" />
<polyline points="384.8,382.7 386.6,382.3 388.1,382.8 389.7,381.1 391.2,380.8 392.8,379.1 394.3,379.2 395.8,379.2 397.4,378.5 398.9,378.1 400.5,375.7 402.0,376.2 403.5,374.9 405.1,371.8 406.6,369.2 408.1,365.0 409.7,365.0 411.2,361.5 412.5,358.2 413.8,355.1 415.1,352.3 416.6,346.4 418.2,341.5 420.5,329.2 422.8,316.9 424.3,304.6 426.6,303.1 428.2,296.2 430.5,296.9 432.0,310.8 434.3,318.5 436.6,326.2 438.9,336.9 441.2,344.6 443.5,352.3 444.9,357.1 446.2,361.5 447.7,365.1 449.3,369.4 450.8,369.2 452.3,370.4 453.9,369.3 455.4,373.8 456.9,374.4 458.5,378.1 460.0,378.5 461.6,378.5 463.1,379.9 464.6,378.9 466.2,380.0 467.6,379.6 468.9,378.5 470.3,379.4 471.7,381.7 473.0,380.8 474.4,380.6 475.8,381.2 477.1,380.7 478.5,381.5 479.9,381.4 481.3,382.2 482.7,381.1 484.1,382.9 485.5,380.1 486.8,382.4 488.2,382.1 489.6,382.2 491.0,382.7 492.4,381.8 493.8,381.8 495.1,382.8 496.4,381.6 497.7,381.8 499.0,381.5 500.3,382.5 501.6,382.2 503.0,382.9 504.3,381.7 505.6,382.9 506.9,381.6 508.2,382.2 509.5,382.8 510.8,382.3" fill="none" stroke="#000" stroke-width="1.8" stroke-linejoin="round" />
<line x1="443.90" y1="332.00" x2="448.60" y2="332.00" stroke="#000" stroke-width="0.9" />
<polygon points="439.40,332.00 444.40,329.20 444.40,334.80" fill="#000"/>
<line x1="439.90" y1="356.00" x2="460.80" y2="356.00" stroke="#000" stroke-width="0.9" />
<polygon points="435.40,356.00 440.40,353.20 440.40,358.80" fill="#000"/>
<text x="453.10" y="334.20" font-size="7.6" fill="#111" >Anti-human</text>
<text x="453.10" y="343.50" font-size="7.6" fill="#111" >RANKL antibody</text>
<text x="464.60" y="358.40" font-size="7.6" fill="#111" >Isotype</text>
<text x="464.60" y="367.50" font-size="7.6" fill="#111" >antibody</text>
<line x1="71.80" y1="419.60" x2="71.80" y2="534.20" stroke="#888" stroke-width="1" />
<line x1="68.80" y1="419.60" x2="71.80" y2="419.60" stroke="#444" stroke-width="1" />
<line x1="68.80" y1="534.20" x2="197.20" y2="534.20" stroke="#999" stroke-width="1" />
<line x1="71.80" y1="448.25" x2="73.30" y2="448.25" stroke="#aaa" stroke-width="0.8" />
<line x1="71.80" y1="476.90" x2="73.30" y2="476.90" stroke="#aaa" stroke-width="0.8" />
<line x1="71.80" y1="505.55" x2="73.30" y2="505.55" stroke="#aaa" stroke-width="0.8" />
<line x1="71.80" y1="534.20" x2="71.80" y2="536.20" stroke="#333" stroke-width="0.9" />
<line x1="84.23" y1="534.20" x2="84.23" y2="536.20" stroke="#333" stroke-width="0.9" />
<line x1="91.51" y1="534.20" x2="91.51" y2="536.20" stroke="#333" stroke-width="0.9" />
<line x1="96.67" y1="534.20" x2="96.67" y2="536.20" stroke="#333" stroke-width="0.9" />
<line x1="100.67" y1="534.20" x2="100.67" y2="536.20" stroke="#333" stroke-width="0.9" />
<line x1="103.94" y1="534.20" x2="103.94" y2="536.20" stroke="#333" stroke-width="0.9" />
<line x1="106.70" y1="534.20" x2="106.70" y2="536.20" stroke="#333" stroke-width="0.9" />
<line x1="109.10" y1="534.20" x2="109.10" y2="536.20" stroke="#333" stroke-width="0.9" />
<line x1="111.21" y1="534.20" x2="111.21" y2="536.20" stroke="#333" stroke-width="0.9" />
<line x1="113.10" y1="534.20" x2="113.10" y2="536.20" stroke="#333" stroke-width="0.9" />
<line x1="125.53" y1="534.20" x2="125.53" y2="536.20" stroke="#333" stroke-width="0.9" />
<line x1="132.81" y1="534.20" x2="132.81" y2="536.20" stroke="#333" stroke-width="0.9" />
<line x1="137.97" y1="534.20" x2="137.97" y2="536.20" stroke="#333" stroke-width="0.9" />
<line x1="141.97" y1="534.20" x2="141.97" y2="536.20" stroke="#333" stroke-width="0.9" />
<line x1="145.24" y1="534.20" x2="145.24" y2="536.20" stroke="#333" stroke-width="0.9" />
<line x1="148.00" y1="534.20" x2="148.00" y2="536.20" stroke="#333" stroke-width="0.9" />
<line x1="150.40" y1="534.20" x2="150.40" y2="536.20" stroke="#333" stroke-width="0.9" />
<line x1="152.51" y1="534.20" x2="152.51" y2="536.20" stroke="#333" stroke-width="0.9" />
<line x1="154.40" y1="534.20" x2="154.40" y2="536.20" stroke="#333" stroke-width="0.9" />
<line x1="166.83" y1="534.20" x2="166.83" y2="536.20" stroke="#333" stroke-width="0.9" />
<line x1="174.11" y1="534.20" x2="174.11" y2="536.20" stroke="#333" stroke-width="0.9" />
<line x1="179.27" y1="534.20" x2="179.27" y2="536.20" stroke="#333" stroke-width="0.9" />
<line x1="183.27" y1="534.20" x2="183.27" y2="536.20" stroke="#333" stroke-width="0.9" />
<line x1="186.54" y1="534.20" x2="186.54" y2="536.20" stroke="#333" stroke-width="0.9" />
<line x1="189.30" y1="534.20" x2="189.30" y2="536.20" stroke="#333" stroke-width="0.9" />
<line x1="191.70" y1="534.20" x2="191.70" y2="536.20" stroke="#333" stroke-width="0.9" />
<line x1="193.81" y1="534.20" x2="193.81" y2="536.20" stroke="#333" stroke-width="0.9" />
<line x1="195.70" y1="534.20" x2="195.70" y2="536.20" stroke="#333" stroke-width="0.9" />
<text x="64.90" y="423.00" font-size="8.6" text-anchor="end" fill="#222" >80</text>
<text x="64.60" y="537.40" font-size="8.6" text-anchor="end" fill="#222" >0</text>
<text x="75.70" y="426.50" font-size="10.0" fill="#111" >TLR7</text>
<text x="70.80" y="546.50" font-size="8.3" text-anchor="middle" fill="#222" >10</text>
<text x="75.40" y="542.80" font-size="5" fill="#222" >0</text>
<text x="112.10" y="546.50" font-size="8.3" text-anchor="middle" fill="#222" >10</text>
<text x="116.70" y="542.80" font-size="5" fill="#222" >1</text>
<text x="153.40" y="546.50" font-size="8.3" text-anchor="middle" fill="#222" >10</text>
<text x="158.00" y="542.80" font-size="5" fill="#222" >2</text>
<text x="194.70" y="546.50" font-size="8.3" text-anchor="middle" fill="#222" >10</text>
<text x="199.30" y="542.80" font-size="5" fill="#222" >3</text>
<text x="70.30" y="559.20" font-size="9.3" font-weight="bold" textLength="132" lengthAdjust="spacingAndGlyphs" >Fluorescence (arbitrary units)</text>
<text x="59.50" y="501.20" font-size="9.9" font-weight="bold" textLength="54.2" lengthAdjust="spacingAndGlyphs" transform="rotate(-90 59.50 501.20)" >Cell number</text>
<polyline points="71.8,534.0 71.8,532.6 72.5,532.6 72.5,531.7 73.1,531.7 73.1,530.7 73.8,530.7 73.8,529.0 74.4,529.0 74.4,528.3 75.1,528.3 75.1,528.7 75.7,528.7 75.7,528.2 76.4,528.2 76.4,528.2 77.0,528.2 77.0,526.3 77.7,526.3 77.7,527.7 78.3,527.7 78.3,526.3 79.0,526.3 79.0,525.2 79.6,525.2 79.6,525.2 80.3,525.2 80.3,526.8 80.9,526.8 80.9,522.6 81.6,522.6 81.6,523.2 82.2,523.2 82.2,524.4 82.9,524.4 82.9,522.1 83.5,522.1 83.5,522.3 84.2,522.3 84.2,519.8 84.8,519.8 84.8,517.7 85.5,517.7 85.5,520.1 86.1,520.1 86.1,515.9 86.8,515.9 86.8,516.4 87.4,516.4 87.4,518.8 88.1,518.8 88.1,514.3 88.7,514.3 88.7,513.5 89.4,513.5 89.4,512.8 90.0,512.8 90.0,510.2 90.7,510.2 90.7,510.8 91.3,510.8 91.3,509.8 92.0,509.8 92.0,505.6 92.6,505.6 92.6,510.1 93.3,510.1 93.3,505.8 93.9,505.8 93.9,503.6 94.6,503.6 94.6,507.1 95.2,507.1 95.2,501.6 95.9,501.6 95.9,502.2 96.5,502.2 96.5,504.3 97.2,504.3 97.2,498.8 97.8,498.8 97.8,501.2 98.5,501.2 98.5,504.0 99.1,504.0 99.1,493.3 99.8,493.3 99.8,492.5 100.4,492.5 100.4,495.7 101.1,495.7 101.1,490.8 101.7,490.8 101.7,484.9 102.4,484.9 102.4,485.7 103.0,485.7 103.0,485.4 103.7,485.4 103.7,482.6 104.3,482.6 104.3,479.9 105.0,479.9 105.0,470.6 105.6,470.6 105.6,465.3 106.3,465.3 106.3,458.4 106.9,458.4 106.9,452.6 107.6,452.6 107.6,442.3 108.2,442.3 108.2,437.1 108.9,437.1 108.9,429.6 109.5,429.6 109.5,426.3 110.2,426.3 110.2,428.0 110.8,428.0 110.8,422.2 111.5,422.2 111.5,424.4 112.1,424.4 112.1,423.7 112.8,423.7 112.8,423.1 113.4,423.1 113.4,432.7 114.1,432.7 114.1,433.0 114.7,433.0 114.7,442.1 115.4,442.1 115.4,456.2 116.0,456.2 116.0,462.4 116.7,462.4 116.7,471.2 117.3,471.2 117.3,483.9 118.0,483.9 118.0,486.2 118.6,486.2 118.6,492.4 119.3,492.4 119.3,499.0 119.9,499.0 119.9,503.9 120.6,503.9 120.6,506.4 121.2,506.4 121.2,507.7 121.9,507.7 121.9,508.8 122.5,508.8 122.5,511.4 123.2,511.4 123.2,511.2 123.8,511.2 123.8,520.5 124.5,520.5 124.5,523.6 125.1,523.6 125.1,524.0 125.8,524.0 125.8,521.8 126.4,521.8 126.4,525.7 127.1,525.7 127.1,522.4 127.7,522.4 127.7,523.3 128.4,523.3 128.4,525.6 129.0,525.6 129.0,526.3 129.7,526.3 129.7,528.1 130.3,528.1 130.3,527.5 131.0,527.5 131.0,527.7 131.6,527.7 131.6,526.0 132.3,526.0 132.3,527.4 132.9,527.4 132.9,528.5 133.6,528.5 133.6,526.4 134.2,526.4 134.2,527.5 134.9,527.5 134.9,528.6 135.5,528.6 135.5,531.0 136.2,531.0 136.2,529.6 136.8,529.6 136.8,532.2 137.5,532.2 137.5,531.0 138.1,531.0 138.1,530.7 138.8,530.7 138.8,530.9 139.4,530.9 139.4,531.9 140.1,531.9 140.1,531.6 140.7,531.6 140.7,532.2 141.4,532.2 141.4,531.1 142.0,531.1 142.0,532.6 142.7,532.6 142.7,533.0 143.3,533.0 143.3,533.7 144.0,533.7 144.0,533.5 144.6,533.5 144.6,533.3 145.3,533.3 145.3,533.5 145.9,533.5 145.9,533.8 146.6,533.8" fill="none" stroke="#686868" stroke-width="0.95" stroke-linejoin="round" stroke-dasharray="1 0.8"/>
<line x1="72.10" y1="493.00" x2="72.10" y2="534.20" stroke="#111" stroke-width="1.0" />
<polyline points="71.8,533.7 72.2,534.0 73.9,533.9 75.5,533.8 77.2,532.7 78.8,532.6 80.3,530.2 81.9,530.6 83.4,529.6 84.9,530.9 86.5,528.0 88.0,528.1 89.5,527.2 91.1,522.7 92.7,523.8 94.2,524.2 95.7,523.2 97.2,516.5 99.5,508.8 101.8,501.2 103.3,498.5 104.9,491.9 107.2,476.5 108.8,461.2 110.3,448.8 111.8,439.6 113.4,427.3 114.2,419.6 115.7,430.4 116.5,421.2 118.0,439.6 119.5,445.8 121.1,459.6 122.6,473.5 124.2,482.7 125.7,491.9 126.9,503.8 129.5,512.5 132.1,521.1 134.7,522.0 135.9,517.7 137.3,525.5 139.1,526.7 140.8,527.2 142.5,528.3 144.3,528.1 146.0,528.9 147.4,528.7 148.9,530.1 150.3,529.0 151.7,531.4 153.2,533.3 154.6,531.2 155.9,530.5 157.3,530.6 158.6,532.9 159.9,530.8 161.3,531.4 162.6,531.2 163.9,532.2 165.2,528.6 166.6,533.5 167.9,531.6 169.2,531.0 170.6,530.7 171.9,531.5 173.2,531.1 174.6,531.4 175.9,533.5 177.2,533.0 178.6,532.2 179.9,531.6 181.2,531.5 182.5,531.0 183.9,533.2 185.2,532.4 186.5,531.8 187.9,531.7 189.2,531.5 190.6,533.5 192.1,531.9 193.6,529.4 195.0,530.9 196.4,531.4 197.9,530.7" fill="none" stroke="#000" stroke-width="1.8" stroke-linejoin="round" />
<line x1="127.10" y1="472.20" x2="131.80" y2="472.20" stroke="#000" stroke-width="0.9" />
<polygon points="122.60,472.20 127.60,469.40 127.60,475.00" fill="#000"/>
<line x1="127.90" y1="506.50" x2="147.80" y2="506.50" stroke="#000" stroke-width="0.9" />
<polygon points="123.40,506.50 128.40,503.70 128.40,509.30" fill="#000"/>
<text x="136.80" y="474.20" font-size="7.6" fill="#111" >Anti-human</text>
<text x="136.80" y="483.50" font-size="7.6" fill="#111" >RANKL antibody</text>
<text x="152.50" y="507.60" font-size="7.6" fill="#111" >Isotype</text>
<text x="152.50" y="516.70" font-size="7.6" fill="#111" >antibody</text>
<line x1="224.80" y1="419.60" x2="224.80" y2="534.20" stroke="#888" stroke-width="1" />
<line x1="221.80" y1="419.60" x2="224.80" y2="419.60" stroke="#444" stroke-width="1" />
<line x1="221.80" y1="534.20" x2="350.20" y2="534.20" stroke="#999" stroke-width="1" />
<line x1="224.80" y1="448.25" x2="226.30" y2="448.25" stroke="#aaa" stroke-width="0.8" />
<line x1="224.80" y1="476.90" x2="226.30" y2="476.90" stroke="#aaa" stroke-width="0.8" />
<line x1="224.80" y1="505.55" x2="226.30" y2="505.55" stroke="#aaa" stroke-width="0.8" />
<line x1="224.80" y1="534.20" x2="224.80" y2="536.20" stroke="#333" stroke-width="0.9" />
<line x1="237.23" y1="534.20" x2="237.23" y2="536.20" stroke="#333" stroke-width="0.9" />
<line x1="244.51" y1="534.20" x2="244.51" y2="536.20" stroke="#333" stroke-width="0.9" />
<line x1="249.67" y1="534.20" x2="249.67" y2="536.20" stroke="#333" stroke-width="0.9" />
<line x1="253.67" y1="534.20" x2="253.67" y2="536.20" stroke="#333" stroke-width="0.9" />
<line x1="256.94" y1="534.20" x2="256.94" y2="536.20" stroke="#333" stroke-width="0.9" />
<line x1="259.70" y1="534.20" x2="259.70" y2="536.20" stroke="#333" stroke-width="0.9" />
<line x1="262.10" y1="534.20" x2="262.10" y2="536.20" stroke="#333" stroke-width="0.9" />
<line x1="264.21" y1="534.20" x2="264.21" y2="536.20" stroke="#333" stroke-width="0.9" />
<line x1="266.10" y1="534.20" x2="266.10" y2="536.20" stroke="#333" stroke-width="0.9" />
<line x1="278.53" y1="534.20" x2="278.53" y2="536.20" stroke="#333" stroke-width="0.9" />
<line x1="285.81" y1="534.20" x2="285.81" y2="536.20" stroke="#333" stroke-width="0.9" />
<line x1="290.97" y1="534.20" x2="290.97" y2="536.20" stroke="#333" stroke-width="0.9" />
<line x1="294.97" y1="534.20" x2="294.97" y2="536.20" stroke="#333" stroke-width="0.9" />
<line x1="298.24" y1="534.20" x2="298.24" y2="536.20" stroke="#333" stroke-width="0.9" />
<line x1="301.00" y1="534.20" x2="301.00" y2="536.20" stroke="#333" stroke-width="0.9" />
<line x1="303.40" y1="534.20" x2="303.40" y2="536.20" stroke="#333" stroke-width="0.9" />
<line x1="305.51" y1="534.20" x2="305.51" y2="536.20" stroke="#333" stroke-width="0.9" />
<line x1="307.40" y1="534.20" x2="307.40" y2="536.20" stroke="#333" stroke-width="0.9" />
<line x1="319.83" y1="534.20" x2="319.83" y2="536.20" stroke="#333" stroke-width="0.9" />
<line x1="327.11" y1="534.20" x2="327.11" y2="536.20" stroke="#333" stroke-width="0.9" />
<line x1="332.27" y1="534.20" x2="332.27" y2="536.20" stroke="#333" stroke-width="0.9" />
<line x1="336.27" y1="534.20" x2="336.27" y2="536.20" stroke="#333" stroke-width="0.9" />
<line x1="339.54" y1="534.20" x2="339.54" y2="536.20" stroke="#333" stroke-width="0.9" />
<line x1="342.30" y1="534.20" x2="342.30" y2="536.20" stroke="#333" stroke-width="0.9" />
<line x1="344.70" y1="534.20" x2="344.70" y2="536.20" stroke="#333" stroke-width="0.9" />
<line x1="346.81" y1="534.20" x2="346.81" y2="536.20" stroke="#333" stroke-width="0.9" />
<line x1="348.70" y1="534.20" x2="348.70" y2="536.20" stroke="#333" stroke-width="0.9" />
<text x="217.90" y="423.00" font-size="8.6" text-anchor="end" fill="#222" >40</text>
<text x="217.60" y="537.40" font-size="8.6" text-anchor="end" fill="#222" >0</text>
<text x="230.00" y="426.20" font-size="10.0" fill="#111" >TLR8</text>
<text x="223.80" y="546.50" font-size="8.3" text-anchor="middle" fill="#222" >10</text>
<text x="228.40" y="542.80" font-size="5" fill="#222" >0</text>
<text x="265.10" y="546.50" font-size="8.3" text-anchor="middle" fill="#222" >10</text>
<text x="269.70" y="542.80" font-size="5" fill="#222" >1</text>
<text x="306.40" y="546.50" font-size="8.3" text-anchor="middle" fill="#222" >10</text>
<text x="311.00" y="542.80" font-size="5" fill="#222" >2</text>
<text x="347.70" y="546.50" font-size="8.3" text-anchor="middle" fill="#222" >10</text>
<text x="352.30" y="542.80" font-size="5" fill="#222" >3</text>
<text x="223.30" y="559.20" font-size="9.3" font-weight="bold" textLength="132" lengthAdjust="spacingAndGlyphs" >Fluorescence (arbitrary units)</text>
<text x="212.50" y="501.20" font-size="9.9" font-weight="bold" textLength="54.2" lengthAdjust="spacingAndGlyphs" transform="rotate(-90 212.50 501.20)" >Cell number</text>
<polyline points="224.8,534.0 224.8,533.8 225.5,533.8 225.5,533.6 226.1,533.6 226.1,532.4 226.8,532.4 226.8,532.0 227.4,532.0 227.4,530.8 228.1,530.8 228.1,529.3 228.7,529.3 228.7,530.2 229.4,530.2 229.4,528.0 230.0,528.0 230.0,526.7 230.7,526.7 230.7,527.5 231.3,527.5 231.3,527.1 232.0,527.1 232.0,528.3 232.6,528.3 232.6,528.1 233.3,528.1 233.3,527.9 233.9,527.9 233.9,522.9 234.6,522.9 234.6,523.8 235.2,523.8 235.2,522.8 235.9,522.8 235.9,524.4 236.5,524.4 236.5,522.3 237.2,522.3 237.2,521.8 237.8,521.8 237.8,523.5 238.5,523.5 238.5,521.0 239.1,521.0 239.1,519.6 239.8,519.6 239.8,517.4 240.4,517.4 240.4,519.6 241.1,519.6 241.1,515.0 241.7,515.0 241.7,516.1 242.4,516.1 242.4,515.9 243.0,515.9 243.0,512.2 243.7,512.2 243.7,511.4 244.3,511.4 244.3,510.1 245.0,510.1 245.0,510.3 245.6,510.3 245.6,506.0 246.3,506.0 246.3,510.4 246.9,510.4 246.9,501.9 247.6,501.9 247.6,508.5 248.2,508.5 248.2,504.4 248.9,504.4 248.9,505.5 249.5,505.5 249.5,500.9 250.2,500.9 250.2,499.6 250.8,499.6 250.8,502.1 251.5,502.1 251.5,498.3 252.1,498.3 252.1,498.7 252.8,498.7 252.8,492.9 253.4,492.9 253.4,488.8 254.1,488.8 254.1,494.8 254.7,494.8 254.7,492.9 255.4,492.9 255.4,491.3 256.0,491.3 256.0,481.7 256.7,481.7 256.7,479.5 257.3,479.5 257.3,474.2 258.0,474.2 258.0,472.0 258.6,472.0 258.6,472.9 259.3,472.9 259.3,465.6 259.9,465.6 259.9,457.0 260.6,457.0 260.6,452.9 261.2,452.9 261.2,454.8 261.9,454.8 261.9,451.3 262.5,451.3 262.5,439.5 263.2,439.5 263.2,438.5 263.8,438.5 263.8,428.5 264.4,428.5 264.4,428.8 265.1,428.8 265.1,420.1 265.7,420.1 265.7,433.2 266.4,433.2 266.4,428.6 267.0,428.6 267.0,435.1 267.7,435.1 267.7,441.8 268.3,441.8 268.3,441.6 269.0,441.6 269.0,444.9 269.6,444.9 269.6,458.3 270.3,458.3 270.3,457.4 270.9,457.4 270.9,462.0 271.6,462.0 271.6,470.9 272.2,470.9 272.2,477.7 272.9,477.7 272.9,481.1 273.5,481.1 273.5,488.6 274.2,488.6 274.2,491.1 274.8,491.1 274.8,495.4 275.5,495.4 275.5,501.7 276.1,501.7 276.1,507.6 276.8,507.6 276.8,507.4 277.4,507.4 277.4,508.8 278.1,508.8 278.1,515.3 278.7,515.3 278.7,513.8 279.4,513.8 279.4,516.6 280.0,516.6 280.0,517.8 280.7,517.8 280.7,520.7 281.3,520.7 281.3,522.9 282.0,522.9 282.0,525.0 282.6,525.0 282.6,527.2 283.3,527.2 283.3,525.3 283.9,525.3 283.9,527.8 284.6,527.8 284.6,528.5 285.2,528.5 285.2,527.8 285.9,527.8 285.9,525.5 286.5,525.5 286.5,527.1 287.2,527.1 287.2,529.0 287.8,529.0 287.8,528.3 288.5,528.3 288.5,527.8 289.1,527.8 289.1,529.3 289.8,529.3 289.8,530.1 290.4,530.1 290.4,529.7 291.1,529.7 291.1,530.6 291.7,530.6 291.7,530.3 292.4,530.3 292.4,530.8 293.0,530.8 293.0,531.1 293.7,531.1 293.7,530.5 294.3,530.5 294.3,530.8 295.0,530.8 295.0,532.1 295.6,532.1 295.6,532.5 296.3,532.5 296.3,532.7 296.9,532.7 296.9,532.1 297.6,532.1 297.6,533.3 298.2,533.3 298.2,533.7 298.9,533.7 298.9,533.9 299.5,533.9" fill="none" stroke="#686868" stroke-width="0.95" stroke-linejoin="round" stroke-dasharray="1 0.8"/>
<line x1="225.10" y1="515.80" x2="225.10" y2="534.20" stroke="#111" stroke-width="1.0" />
<polyline points="224.8,533.7 226.4,533.8 228.1,533.9 229.7,532.7 231.2,531.7 232.8,531.2 234.3,532.1 235.9,532.5 237.4,530.4 238.9,529.6 240.5,529.4 242.0,529.6 243.9,525.4 245.8,525.0 247.4,522.1 248.9,521.2 250.4,518.7 252.0,518.1 253.6,510.8 255.1,510.4 257.4,502.7 259.7,493.5 261.2,487.3 262.8,465.8 264.3,450.4 265.8,447.3 267.4,441.2 268.9,435.0 270.5,438.1 272.0,437.3 274.3,444.2 275.8,455.0 277.4,465.8 278.9,476.5 280.5,488.8 281.1,495.2 282.8,498.8 284.5,507.3 285.8,515.4 287.1,517.7 288.9,518.6 290.6,521.1 292.3,524.7 294.0,524.6 295.7,525.2 297.5,526.1 299.2,527.2 300.6,530.7 302.0,528.2 303.3,529.5 304.7,530.3 306.1,529.8 307.5,531.0 308.8,531.1 310.2,529.8 311.5,532.7 312.9,530.1 314.2,530.9 315.6,532.3 316.9,530.1 318.3,531.5 319.6,530.7 321.0,531.4 322.3,531.3 323.6,531.4 325.0,531.1 326.3,530.5 327.6,531.8 328.9,532.8 330.3,532.7 331.6,531.2 332.9,531.5 334.3,531.9 335.6,531.9 337.0,531.3 338.4,532.1 339.7,531.5 341.1,532.1 342.5,530.4 343.9,532.0 345.3,532.1 346.6,532.8 348.0,531.0 349.4,531.2" fill="none" stroke="#000" stroke-width="1.8" stroke-linejoin="round" />
<line x1="284.70" y1="472.20" x2="288.90" y2="472.20" stroke="#000" stroke-width="0.9" />
<polygon points="280.20,472.20 285.20,469.40 285.20,475.00" fill="#000"/>
<line x1="281.10" y1="506.50" x2="304.00" y2="506.50" stroke="#000" stroke-width="0.9" />
<polygon points="276.60,506.50 281.60,503.70 281.60,509.30" fill="#000"/>
<text x="293.80" y="474.20" font-size="7.6" fill="#111" >Anti-human</text>
<text x="293.80" y="483.50" font-size="7.6" fill="#111" >RANKL antibody</text>
<text x="307.70" y="507.60" font-size="7.6" fill="#111" >Isotype</text>
<text x="307.70" y="516.70" font-size="7.6" fill="#111" >antibody</text>
<line x1="386.50" y1="420.70" x2="386.50" y2="534.30" stroke="#222" stroke-width="1.3" />
<line x1="386.50" y1="534.30" x2="512.20" y2="534.30" stroke="#222" stroke-width="1.3" />
<line x1="383.70" y1="534.30" x2="386.50" y2="534.30" stroke="#222" stroke-width="1" />
<text x="381.00" y="537.50" font-size="9.2" text-anchor="end" fill="#222" >0</text>
<line x1="383.70" y1="518.07" x2="386.50" y2="518.07" stroke="#222" stroke-width="1" />
<text x="381.00" y="521.27" font-size="9.2" text-anchor="end" fill="#222" >5</text>
<line x1="383.70" y1="501.84" x2="386.50" y2="501.84" stroke="#222" stroke-width="1" />
<text x="381.00" y="505.04" font-size="9.2" text-anchor="end" fill="#222" >10</text>
<line x1="383.70" y1="485.61" x2="386.50" y2="485.61" stroke="#222" stroke-width="1" />
<text x="381.00" y="488.81" font-size="9.2" text-anchor="end" fill="#222" >15</text>
<line x1="383.70" y1="469.39" x2="386.50" y2="469.39" stroke="#222" stroke-width="1" />
<text x="381.00" y="472.59" font-size="9.2" text-anchor="end" fill="#222" >20</text>
<line x1="383.70" y1="453.16" x2="386.50" y2="453.16" stroke="#222" stroke-width="1" />
<text x="381.00" y="456.36" font-size="9.2" text-anchor="end" fill="#222" >25</text>
<line x1="383.70" y1="436.93" x2="386.50" y2="436.93" stroke="#222" stroke-width="1" />
<text x="381.00" y="440.13" font-size="9.2" text-anchor="end" fill="#222" >30</text>
<line x1="383.70" y1="420.70" x2="386.50" y2="420.70" stroke="#222" stroke-width="1" />
<text x="381.00" y="423.90" font-size="9.2" text-anchor="end" fill="#222" >35</text>
<line x1="396.20" y1="519.05" x2="396.20" y2="514.83" stroke="#222" stroke-width="1" />
<line x1="392.60" y1="514.83" x2="399.80" y2="514.83" stroke="#222" stroke-width="1.6" />
<rect x="389.70" y="519.65" width="13.00" height="14.65" fill="#c8c8c8" stroke="#222" stroke-width="1.2" />
<line x1="396.20" y1="534.30" x2="396.20" y2="536.50" stroke="#222" stroke-width="1" />
<text x="396.20" y="547.00" font-size="9.2" text-anchor="middle" fill="#222" transform-origin="396.20 547" style="transform:scaleX(0.74)">ctl</text>
<line x1="417.35" y1="462.57" x2="417.35" y2="434.98" stroke="#222" stroke-width="1" />
<line x1="413.75" y1="434.98" x2="420.95" y2="434.98" stroke="#222" stroke-width="1.6" />
<rect x="410.90" y="463.17" width="12.90" height="71.13" fill="#404040" stroke="#222" stroke-width="1.2" />
<line x1="417.35" y1="534.30" x2="417.35" y2="536.50" stroke="#222" stroke-width="1" />
<text x="417.35" y="547.00" font-size="9.2" text-anchor="middle" fill="#222" transform-origin="417.35 547" style="transform:scaleX(0.74)">TLR4</text>
<line x1="438.50" y1="462.57" x2="438.50" y2="439.53" stroke="#222" stroke-width="1" />
<line x1="434.90" y1="439.53" x2="442.10" y2="439.53" stroke="#222" stroke-width="1.6" />
<rect x="431.80" y="463.17" width="13.40" height="71.13" fill="#404040" stroke="#222" stroke-width="1.2" />
<line x1="438.50" y1="534.30" x2="438.50" y2="536.50" stroke="#222" stroke-width="1" />
<text x="438.50" y="547.00" font-size="9.2" text-anchor="middle" fill="#222" transform-origin="438.50 547" style="transform:scaleX(0.74)">TLR2</text>
<line x1="459.55" y1="488.86" x2="459.55" y2="468.09" stroke="#222" stroke-width="1" />
<line x1="455.95" y1="468.09" x2="463.15" y2="468.09" stroke="#222" stroke-width="1.6" />
<rect x="452.80" y="489.46" width="13.50" height="44.84" fill="#8c8c8c" stroke="#222" stroke-width="1.2" />
<line x1="459.55" y1="534.30" x2="459.55" y2="536.50" stroke="#222" stroke-width="1" />
<text x="459.55" y="547.00" font-size="9.2" text-anchor="middle" fill="#222" transform-origin="459.55 547" style="transform:scaleX(0.74)">TLR5</text>
<line x1="480.65" y1="496.65" x2="480.65" y2="474.58" stroke="#222" stroke-width="1" />
<line x1="477.05" y1="474.58" x2="484.25" y2="474.58" stroke="#222" stroke-width="1.6" />
<rect x="473.90" y="497.25" width="13.50" height="37.05" fill="#8c8c8c" stroke="#222" stroke-width="1.2" />
<line x1="480.65" y1="534.30" x2="480.65" y2="536.50" stroke="#222" stroke-width="1" />
<text x="480.65" y="547.00" font-size="9.2" text-anchor="middle" fill="#222" transform-origin="480.65 547" style="transform:scaleX(0.74)">TLR7</text>
<line x1="501.75" y1="492.43" x2="501.75" y2="470.36" stroke="#222" stroke-width="1" />
<line x1="498.15" y1="470.36" x2="505.35" y2="470.36" stroke="#222" stroke-width="1.6" />
<rect x="495.00" y="493.03" width="13.50" height="41.27" fill="#8c8c8c" stroke="#222" stroke-width="1.2" />
<line x1="501.75" y1="534.30" x2="501.75" y2="536.50" stroke="#222" stroke-width="1" />
<text x="501.75" y="547.00" font-size="9.2" text-anchor="middle" fill="#222" transform-origin="501.75 547" style="transform:scaleX(0.74)">TLR8</text>
<text x="417.40" y="434.30" font-size="12" font-weight="bold" text-anchor="middle" >*</text>
<text x="438.30" y="439.30" font-size="12" font-weight="bold" text-anchor="middle" >*</text>
<text x="364.00" y="527.40" font-size="9.8" font-weight="bold" textLength="102.4" lengthAdjust="spacingAndGlyphs" transform="rotate(-90 364.00 527.40)" >RANKL expression (%)</text>
<text x="4.40" y="597.80" font-size="20" font-weight="bold" >C</text>
<line x1="73.40" y1="601.50" x2="73.40" y2="814.00" stroke="#222" stroke-width="1.6" />
<line x1="73.40" y1="814.00" x2="303.40" y2="814.00" stroke="#222" stroke-width="1.6" />
<line x1="69.90" y1="814.00" x2="73.40" y2="814.00" stroke="#222" stroke-width="1.3" />
<text x="67.70" y="819.00" font-size="14" text-anchor="end" fill="#1a1a1a" >0.0</text>
<line x1="69.90" y1="787.50" x2="73.40" y2="787.50" stroke="#222" stroke-width="1.3" />
<text x="67.70" y="792.50" font-size="14" text-anchor="end" fill="#1a1a1a" >0.2</text>
<line x1="69.90" y1="761.00" x2="73.40" y2="761.00" stroke="#222" stroke-width="1.3" />
<text x="67.70" y="766.00" font-size="14" text-anchor="end" fill="#1a1a1a" >0.4</text>
<line x1="69.90" y1="734.50" x2="73.40" y2="734.50" stroke="#222" stroke-width="1.3" />
<text x="67.70" y="739.50" font-size="14" text-anchor="end" fill="#1a1a1a" >0.6</text>
<line x1="69.90" y1="708.00" x2="73.40" y2="708.00" stroke="#222" stroke-width="1.3" />
<text x="67.70" y="713.00" font-size="14" text-anchor="end" fill="#1a1a1a" >0.8</text>
<line x1="69.90" y1="681.50" x2="73.40" y2="681.50" stroke="#222" stroke-width="1.3" />
<text x="67.70" y="686.50" font-size="14" text-anchor="end" fill="#1a1a1a" >1.0</text>
<line x1="69.90" y1="655.00" x2="73.40" y2="655.00" stroke="#222" stroke-width="1.3" />
<text x="67.70" y="660.00" font-size="14" text-anchor="end" fill="#1a1a1a" >1.2</text>
<line x1="69.90" y1="628.50" x2="73.40" y2="628.50" stroke="#222" stroke-width="1.3" />
<text x="67.70" y="633.50" font-size="14" text-anchor="end" fill="#1a1a1a" >1.4</text>
<line x1="69.90" y1="602.00" x2="73.40" y2="602.00" stroke="#222" stroke-width="1.3" />
<text x="67.70" y="607.00" font-size="14" text-anchor="end" fill="#1a1a1a" >1.6</text>
<line x1="102.20" y1="783.52" x2="102.20" y2="775.58" stroke="#222" stroke-width="1.4" />
<line x1="92.40" y1="775.58" x2="112.00" y2="775.58" stroke="#222" stroke-width="1.6" />
<rect x="83.90" y="784.23" width="36.60" height="29.78" fill="#a0a0a0" stroke="#222" stroke-width="1.4" />
<line x1="102.20" y1="814.00" x2="102.20" y2="820.50" stroke="#222" stroke-width="1.4" />
<text x="101.80" y="841.30" font-size="14" font-weight="bold" text-anchor="middle" fill="#111" >0</text>
<line x1="159.40" y1="732.51" x2="159.40" y2="686.80" stroke="#222" stroke-width="1.4" />
<line x1="149.60" y1="686.80" x2="169.20" y2="686.80" stroke="#222" stroke-width="1.6" />
<rect x="140.70" y="733.21" width="37.40" height="80.79" fill="#595959" stroke="#222" stroke-width="1.4" />
<line x1="159.40" y1="814.00" x2="159.40" y2="820.50" stroke="#222" stroke-width="1.4" />
<text x="154.90" y="841.30" font-size="14" font-weight="bold" text-anchor="middle" fill="#111" >24h</text>
<line x1="217.40" y1="688.12" x2="217.40" y2="669.58" stroke="#222" stroke-width="1.4" />
<line x1="207.60" y1="669.58" x2="227.20" y2="669.58" stroke="#222" stroke-width="1.6" />
<rect x="198.70" y="688.83" width="37.40" height="125.17" fill="#595959" stroke="#222" stroke-width="1.4" />
<line x1="217.40" y1="814.00" x2="217.40" y2="820.50" stroke="#222" stroke-width="1.4" />
<text x="214.50" y="841.30" font-size="14" font-weight="bold" text-anchor="middle" fill="#111" >48h</text>
<line x1="274.75" y1="684.15" x2="274.75" y2="664.27" stroke="#222" stroke-width="1.4" />
<line x1="264.95" y1="664.27" x2="284.55" y2="664.27" stroke="#222" stroke-width="1.6" />
<rect x="256.30" y="684.85" width="36.90" height="129.15" fill="#595959" stroke="#222" stroke-width="1.4" />
<line x1="274.75" y1="814.00" x2="274.75" y2="820.50" stroke="#222" stroke-width="1.4" />
<text x="274.50" y="841.30" font-size="14" font-weight="bold" text-anchor="middle" fill="#111" >72h</text>
<text x="217.20" y="667.50" font-size="17" font-weight="bold" text-anchor="middle" >*</text>
<text x="275.00" y="661.80" font-size="17" font-weight="bold" text-anchor="middle" >*</text>
<text x="16.70" y="745.70" font-size="16" font-weight="bold" textLength="98.7" lengthAdjust="spacingAndGlyphs" transform="rotate(-90 16.70 745.70)" >densitometry</text>
<text x="33.60" y="762.80" font-size="16" font-weight="bold" textLength="125.6" lengthAdjust="spacingAndGlyphs" transform="rotate(-90 33.60 762.80)" >(RANKL/&#946;-actin)</text>
<text x="331.20" y="596.00" font-size="19.5" font-weight="bold" >D</text>
<text x="332.50" y="684.80" font-size="14" fill="#111" textLength="46.2" lengthAdjust="spacingAndGlyphs" >RANKL</text>
<text x="342.70" y="761.70" font-size="14" fill="#111" textLength="35.3" lengthAdjust="spacingAndGlyphs" >CD32</text>
<line x1="387.30" y1="679.00" x2="400.00" y2="679.00" stroke="#000" stroke-width="1.5" />
<polygon points="408.8,679.0 398.8,674.2 398.8,683.8" fill="#000"/>
<line x1="387.30" y1="756.90" x2="400.00" y2="756.90" stroke="#000" stroke-width="1.5" />
<polygon points="408.8,756.9 398.8,752.1 398.8,761.6999999999999" fill="#000"/>
<defs>
<filter id="blur1" x="-30%" y="-100%" width="160%" height="300%"><feGaussianBlur stdDeviation="0.9"/></filter>
<filter id="blur2" x="-30%" y="-60%" width="160%" height="220%"><feGaussianBlur stdDeviation="1.1"/></filter>
<filter id="halo" x="-30%" y="-80%" width="160%" height="260%"><feGaussianBlur stdDeviation="3.2"/></filter>
<filter id="speck" x="0" y="0" width="100%" height="100%"><feTurbulence type="fractalNoise" baseFrequency="0.09" numOctaves="3" seed="4" result="n"/><feColorMatrix in="n" type="matrix" values="0 0 0 0 0  0 0 0 0 0  0 0 0 0 0  -1.1 0 0 0 0.62" /></filter>
<linearGradient id="bg1" x1="0" y1="0" x2="1" y2="0.3"><stop offset="0" stop-color="#e9e9e9"/><stop offset="0.6" stop-color="#e6e6e6"/><stop offset="1" stop-color="#dadada"/></linearGradient>
<linearGradient id="bg2" x1="0" y1="0" x2="0" y2="1"><stop offset="0" stop-color="#e2e2e2"/><stop offset="0.5" stop-color="#d6d6d6"/><stop offset="1" stop-color="#e0e0e0"/></linearGradient>
</defs>
<rect x="415.00" y="637.20" width="99.20" height="75.00" fill="url(#bg1)" stroke="none" stroke-width="1" />
<rect x="415.5" y="637.5" width="98.5" height="74.5" filter="url(#speck)" opacity="0.12"/>
<line x1="415.10" y1="636.40" x2="415.10" y2="713.00" stroke="#111" stroke-width="2.0" />
<line x1="414.20" y1="637.20" x2="514.20" y2="637.20" stroke="#111" stroke-width="1.6" />
<line x1="414.20" y1="712.20" x2="514.20" y2="712.20" stroke="#111" stroke-width="1.6" />
<ellipse cx="437" cy="679.5" rx="20" ry="5" fill="#777" opacity="0.35" filter="url(#halo)"/>
<path d="M420,679 C420.5,676.4 424,675.6 430,675.2 L445,674.2 C448.5,674.2 448.5,682 445,682 L430,682 C424,681.8 420.5,681.4 420,679 Z" fill="#050505" filter="url(#blur1)"/>
<path d="M446,674.8 L452,675.5 L452,679.5 L446,680.5 Z" fill="#555" filter="url(#blur1)"/>
<path d="M451.2,675.6 C455,675.4 458.5,677 458.6,678.8 C458.5,680.6 455,682 451.2,681.8 Z" fill="#0a0a0a" filter="url(#blur1)"/>
<ellipse cx="500" cy="679" rx="10" ry="3" fill="#ccc" opacity="0.6" filter="url(#halo)"/>
<rect x="415.00" y="723.20" width="97.80" height="61.60" fill="url(#bg2)" stroke="none" stroke-width="1" />
<rect x="415.5" y="723.5" width="97" height="61" filter="url(#speck)" opacity="0.12"/>
<line x1="415.10" y1="722.40" x2="415.10" y2="785.60" stroke="#111" stroke-width="2.0" />
<line x1="414.20" y1="723.20" x2="513.30" y2="723.20" stroke="#111" stroke-width="1.6" />
<line x1="414.20" y1="784.80" x2="513.30" y2="784.80" stroke="#111" stroke-width="1.6" />
<line x1="512.80" y1="723.20" x2="512.80" y2="784.80" stroke="#999" stroke-width="1.0" />
<ellipse cx="442" cy="756" rx="25" ry="12" fill="#333" opacity="0.55" filter="url(#halo)"/>
<ellipse cx="489" cy="753.5" rx="23" ry="10" fill="#333" opacity="0.5" filter="url(#halo)"/>
<rect x="420.8" y="746.8" width="42.4" height="19.2" rx="9.5" ry="9.5" fill="#000" filter="url(#blur2)"/>
<path d="M474,748 C480,747.6 482,744.8 490,744.6 L503,744.8 C510,745.5 511,758.5 504,760.5 L476,761.6 C466,761.5 466,748.5 474,748 Z" fill="#000" filter="url(#blur2)"/>
<text x="441.20" y="805.20" font-size="10.8" text-anchor="middle" fill="#111" >Activated</text>
<text x="441.70" y="819.00" font-size="10.8" text-anchor="middle" fill="#111" >neutrophils</text>
<text x="493.00" y="805.20" font-size="10.8" text-anchor="middle" fill="#111" >Freshly</text>
<text x="493.00" y="819.00" font-size="10.8" text-anchor="middle" fill="#111" >isolated</text>
<text x="493.00" y="832.40" font-size="10.8" text-anchor="middle" fill="#111" >neutrophils</text>
</svg>
</body></html>
